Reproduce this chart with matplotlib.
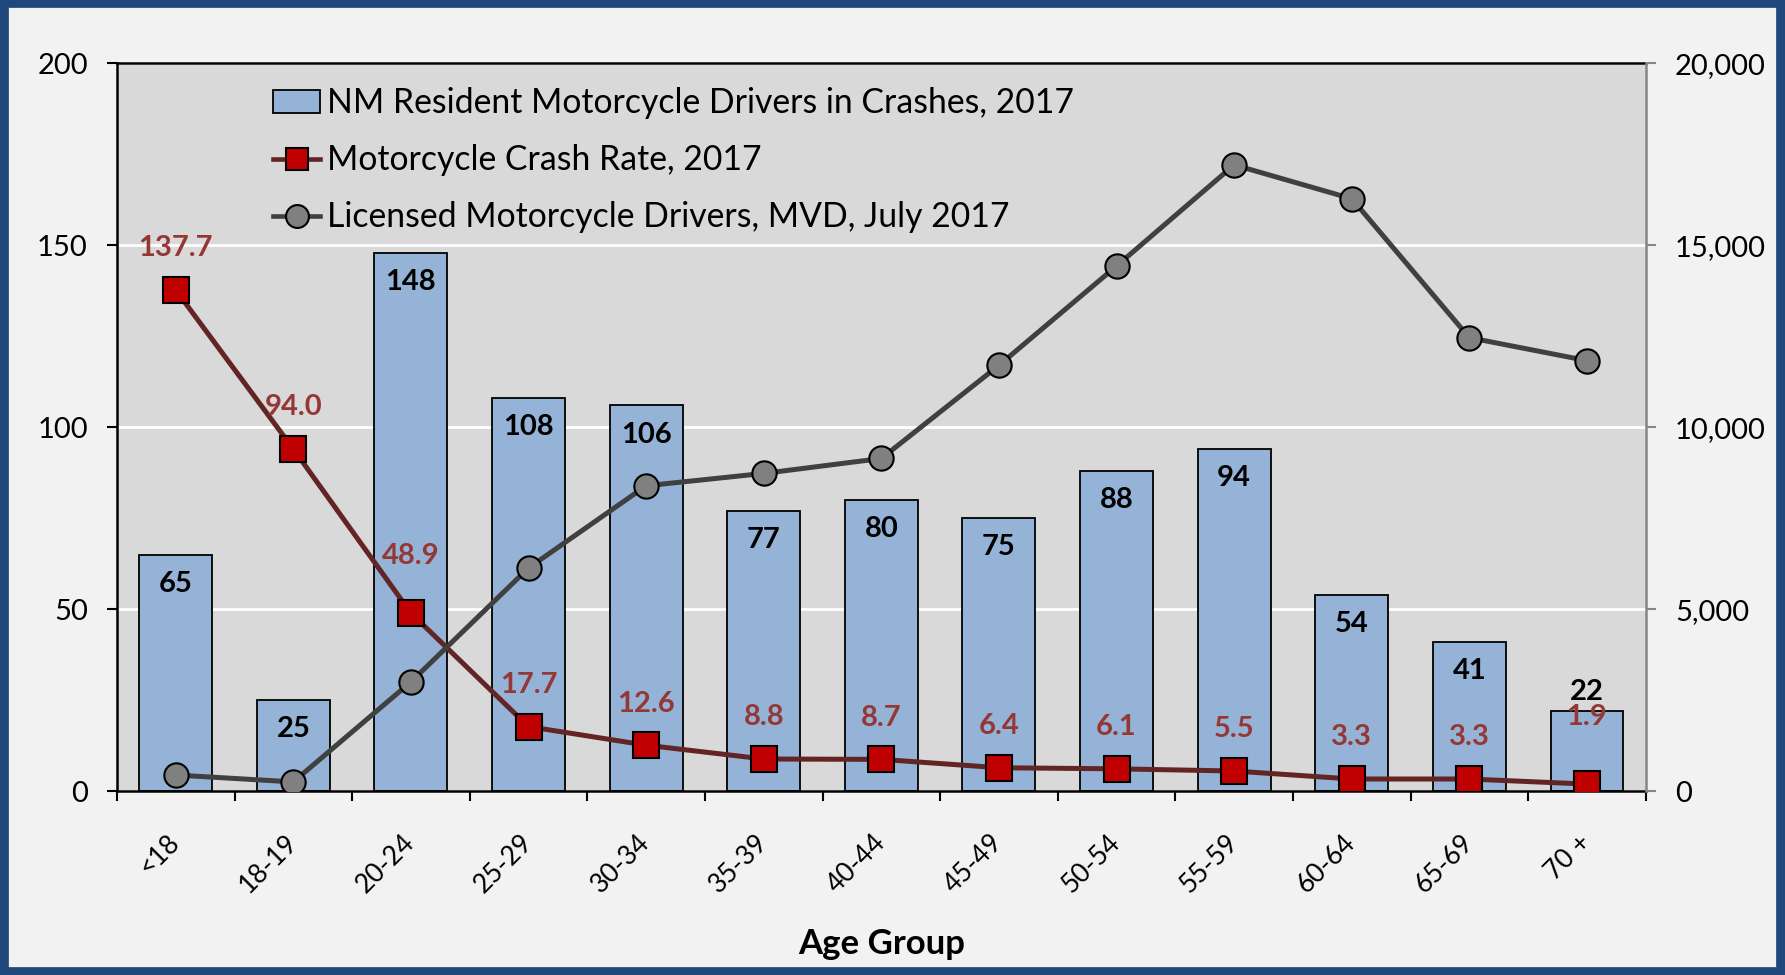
import numpy as np
import matplotlib
matplotlib.use('Agg')
import matplotlib.pyplot as plt
from matplotlib.patches import Rectangle, Patch
from matplotlib.lines import Line2D
from matplotlib.ticker import FuncFormatter

plt.rcParams['font.family'] = ['Lato', 'DejaVu Sans']

# data
age_groups = ['<18', '18-19', '20-24', '25-29', '30-34', '35-39', '40-44',
              '45-49', '50-54', '55-59', '60-64', '65-69', '70 +']
drivers_in_crashes = [65, 25, 148, 108, 106, 77, 80, 75, 88, 94, 54, 41, 22]
crash_rate = [137.7, 94.0, 48.9, 17.7, 12.6, 8.8, 8.7, 6.4, 6.1, 5.5, 3.3, 3.3, 1.9]
licensed_drivers = [440, 250, 3000, 6130, 8390, 8730, 9140, 11700, 14430,
                    17210, 16280, 12460, 11830]

x = np.arange(len(age_groups))

fig = plt.figure(figsize=(17.85, 9.75), dpi=100, facecolor='#f2f2f2')
# dark blue frame round the picture
fig.patches.append(Rectangle((0.002, 0.003), 0.996, 0.994, transform=fig.transFigure,
                             fill=False, edgecolor='#1f497d', linewidth=7, zorder=10))

ax = fig.add_axes([0.0655, 0.1887, 0.8565, 0.7463])
ax.set_facecolor('#d9d9d9')
ax2 = ax.twinx()

# bars
ax.bar(x, drivers_in_crashes, width=0.62, color='#95b3d7', edgecolor='black',
       linewidth=1.3, zorder=2)
ax.set_ylim(0, 200)
ax.set_yticks([0, 50, 100, 150, 200])
ax.set_axisbelow(True)
ax.yaxis.grid(True, color='white', linewidth=2)
ax.set_xlim(-0.5, 12.5)

for i, v in enumerate(drivers_in_crashes):
    if v < 30 and i == len(x) - 1:
        off = 14
    else:
        off = -21
    ax.annotate(str(v), (i, v), xytext=(0, off), textcoords='offset points',
                ha='center', va='center', fontsize=21, fontweight='bold',
                color='black', zorder=3)

# crash rate on left scale
ax.plot(x, crash_rate, color='#632523', linewidth=3.6, marker='s', markersize=18.5,
        markerfacecolor='#c00000', markeredgecolor='black', markeredgewidth=1.5,
        zorder=5)
for i, v in enumerate(crash_rate):
    off = 30
    if i == 2:
        off = 41
    if i == len(x) - 1:
        off = 48
    ax.annotate('%.1f' % v, (i, v), xytext=(0, off), textcoords='offset points',
                ha='center', va='center', fontsize=21, fontweight='bold',
                color='#953735', zorder=6)

# licensed drivers on right scale
ax2.plot(x, licensed_drivers, color='#404040', linewidth=3.6, marker='o',
         markersize=17.5, markerfacecolor='#808080', markeredgecolor='black',
         markeredgewidth=1.5, zorder=4)
ax2.set_ylim(0, 20000)
ax2.set_yticks([0, 5000, 10000, 15000, 20000])
ax2.yaxis.set_major_formatter(FuncFormatter(lambda v, p: '{:,.0f}'.format(v)))

# axes styling
ax.set_xticks(np.arange(-0.5, 13, 1))
ax.set_xticklabels([])
ax.set_xticks(x, minor=True)
ax.set_xticklabels(age_groups, minor=True, rotation=45, ha='right',
                   rotation_mode='anchor', fontsize=19)
ax.tick_params(axis='x', which='major', direction='out', length=7, width=1.5,
               color='black')
ax.tick_params(axis='x', which='minor', length=0, pad=34)
for lab in ax.get_xticklabels(minor=True):
    lab.set_va('center')
ax.tick_params(axis='y', direction='out', length=7, width=1.5, labelsize=21,
               pad=14, color='black')
ax2.tick_params(axis='y', direction='out', length=7, width=1.5, labelsize=21,
                pad=14, color='#868686')

for s in ['left', 'bottom', 'top']:
    ax.spines[s].set_linewidth(1.8)
    ax.spines[s].set_color('black')
ax.spines['right'].set_visible(False)
ax2.spines['right'].set_color('#868686')
ax2.spines['right'].set_linewidth(1.8)
for s in ['left', 'bottom', 'top']:
    ax2.spines[s].set_visible(False)

ax.set_xlabel('Age Group', fontsize=25, fontweight='bold', labelpad=22)

# legend
handles = [
    Patch(facecolor='#95b3d7', edgecolor='black', linewidth=1.3),
    Line2D([], [], color='#632523', linewidth=3.3, marker='s', markersize=16.5,
           markerfacecolor='#c00000', markeredgecolor='black', markeredgewidth=1.5),
    Line2D([], [], color='#404040', linewidth=3.3, marker='o', markersize=16.5,
           markerfacecolor='#808080', markeredgecolor='black', markeredgewidth=1.5),
]
labels = ['NM Resident Motorcycle Drivers in Crashes, 2017',
          'Motorcycle Crash Rate, 2017',
          'Licensed Motorcycle Drivers, MVD, July 2017']
leg = ax2.legend(handles, labels, loc='upper left', bbox_to_anchor=(0.102, 0.967),
                 frameon=False, fontsize=24.3, handlelength=1.41, handletextpad=0.18,
                 labelspacing=0.74, borderpad=0, borderaxespad=0)

fig.savefig('out.png', dpi=100, facecolor=fig.get_facecolor())
